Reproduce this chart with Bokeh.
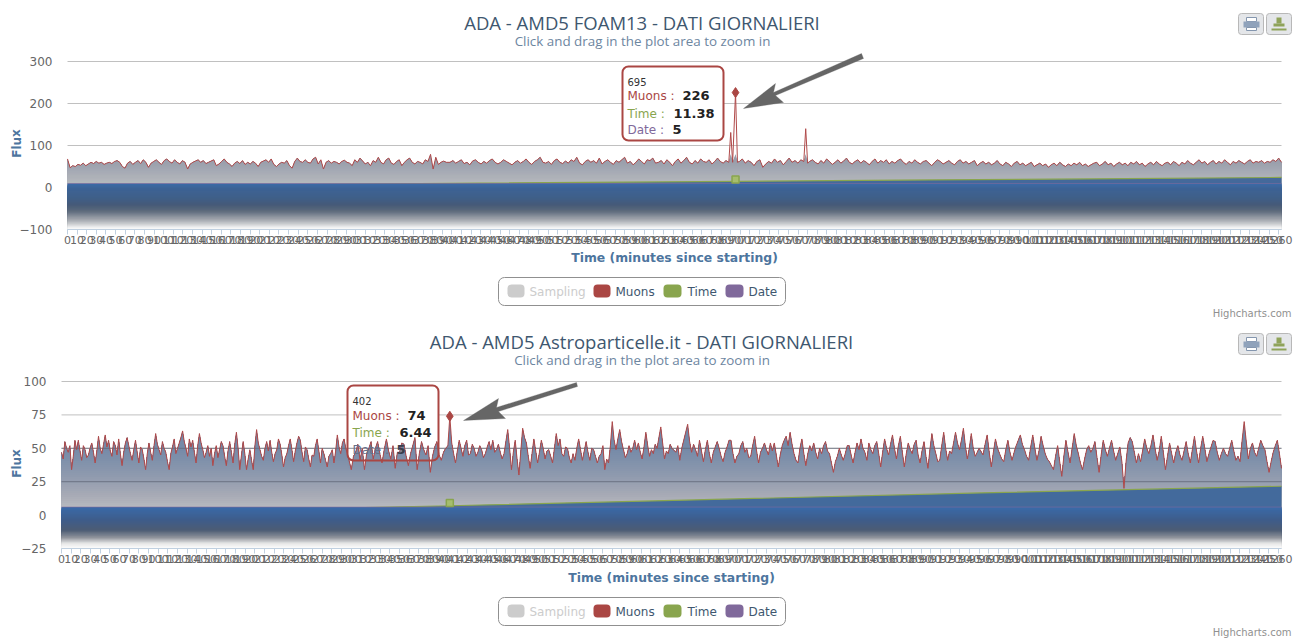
from bokeh.plotting import figure
from bokeh.layouts import column
from bokeh.embed import file_html
from bokeh.resources import INLINE
from bokeh.models import (Range1d, FixedTicker, Label, BoxAnnotation, PolyAnnotation, AllLabels)

TITLE_1 = "ADA - AMD5 FOAM13 - DATI GIORNALIERI"
TITLE_2 = "ADA - AMD5 Astroparticelle.it - DATI GIORNALIERI"
SUBTITLE = "Click and drag in the plot area to zoom in"
X_LABEL = "Time (minutes since starting)"
Y_LABEL = "Flux"
CREDIT = "Highcharts.com"
SERIES = ["Sampling", "Muons", "Time", "Date"]
X_TICKS = list(range(0, 1270, 10))
X_END = 1263
Y_TICKS_1 = [-100, 0, 100, 200, 300]
Y_TICKS_2 = [-25, 0, 25, 50, 75, 100]

# Muons, chart 1: values, section by section
m1_a = [68,47,52,50,55,53,58,52,56,60,57,62,58,60,55,58,60,57,62,64,60,50,46,58,62,55,60,64,57,66,60,48,58,62,66,60,55,64,68,62,58,66,60,56,64,60,44,56,60,63,66,60,64,57,60,63,66,52,56,62,68,60,56,50,58,62,57,64,55,60,56,62,58,50,60,63,66,60,68,55,50,56,60,58,64,52,46,62,70,62,60,66,60,58,68,72,56,66,44,60,64,58,62,60,56,62,65,60,58,52,66,60,70,63,56,60,52,64,60,72,60,56,66,70,58,55,62,66,52,60,66,70,60,56,62,60,56,66,62,79,44,72,55,60,63,60]
m1_b = [60,64,58,62,66,57,60,54,63,66,60,56,62,58,64,68,60,56,60,66,62,58,54,60,64,58,62,68,60,55,62,66,72,60,58,62,55,64,68,60,57,63,58,66,62,72,58,54,62,66,60,64,58,70,56,62,66,60,55,64,60,66,72,58,62,54,60,68,62,56,66,64,70,58,60,64,56,66,60,52,62,68,58,64,72,60,56,64,58,68,62,60,66,56,62,70,62,58,64,60]
m1_spike_x = [690, 692, 695, 697]
m1_spike_y = [131, 60, 226, 60]
m1_c = [62,68,58,64,60,52,62,66,48,56,62,58,68,60,64,54,62,70,60,64,58,66,62]
m1_spike2_x = [768, 770]
m1_spike2_y = [140, 58]
m1_d = [62,66,60,56,64,58,68,62,55,60,66,58,63,70,60,56,62,66,58,64,60,54,62,68,58,64,60,66,56,62,58,64,68,60,55,62,58,66,60,56,62,64,58,52,60,66,62,56,60,64,58,54,62,66,58,62,56,60,64,52,58,62,56,60,54,58,64,56,52,60,56,50,58,62,54,58,52,56,60,50,54,58,52,56,48,54,58,52,60,54,50,56,52,58,54,60,52,56,50,54,58,60,52,56,62,54,58,50,56,60,54,58,52,60,56,62,54,58,50,56,60,54,62,56,52,58,60,54,62,58,52,60,56,64,58,54,60,66,58,62,54,60,64,56,62,58,66,60,54,62,58,64,60,56,62,66,58,62,60,64,58,62,60,66,62,70,60]
m1_x_sections = [(0, 394), (398, 688), (699, 766), (772, 1263)]

# Muons, chart 2
m2_a = [47,42,55,50,47,52,34,44,56,49,56,48,41,52,49,43,45,50,54,47,39,48,59,50,46,53,60,51,56,48,44,55,52,45,57,46,37,47,54,58,52,46,41,49,56,47,39,51,49,42,34,46,54,47,41,52,61,53,49,45,55,50,47,40,34,46,51,57,46,50,54,58,63,55,50,44,57,51,56,47,39,52,61,54,49,43,47,52,44,50,37,46,52,43,49,55,52,44,37,48,55,47,39,53,62,50,34,45,55,46,34,42,49,41,34,52,64,54,49,44,41,50,55,48,56,47,40,46,49,57,53,45,36,43,46,52,57,49,40,48,54,59,56,47,40,51,49,42,36,45,44,52,57,48,39,50,46,41,36,44,46,49,39,48,60,51,46,54,57,50,46]
m2_b = [34,44,47,53,41,50,34,46,50,55,42,50,55,46,39,49,57,48,42,52,35,47,47,54,53,44,37,46,52,58,34,46,55,49,45,52,32,44,51,55,45,41,47,50,52]
m2_peak_x = [402]
m2_peak_y = [74]
m2_c = [54,46,39,48,56,50,44,52,56,45,46,53,50,44,47,52,49,43,46,51,55,49,56,47,49,53,47,42,46,55,64,50,34,47,56,42,30,48,65,58,54,44,35,46,57,48,39,47,56,50,42,48,49,44,39,50,61,52,57,46,44,51,50,43,39,46,41,50,57,49,41,48,55,47,41,50,49,44,39,44,46,52,34,42,39,52,70,56,49,57,64,55,49,43,46,52,47,50,56,49,54,47,42,51,62,52,44,49,46,53,50,58,66,54,42,48,46,53,50]
m2_d = [47,52,41,50,56,62,68,55,47,53,49,44,56,48,40,49,56,46,39,47,51,55,50,44,40,47,51,56,56,46,39,44,46,52,55,47,50,43,44,52,59,48,39,47,50,54,49,45,54,48,54,45,36,45,52,56,59,52,62,53,46,41,39,50,57,46,37,46,52,48,54,47,42,50,46,52,55,48,46,39,32,40,44,50,45,41,46,52,52,45,39,47,54,49,57,50,47,41,54,49,46,52,55,46,36,47,57,50,45,53,60,50,42,52,59,47,36,46,54,49,46,53,56,45,39,48,55,44,35,49,61,52,46,40,41,52,62,50,41,48,46,54,62,54,49,56,65,52,42,50,61,50,44,47,50]
m2_e = [45,53,60,47,36,47,57,50,46,42,40,49,56,47,41,47,52,56,60,53,49,44,41,51,60,50,41,48,59,52,46,42,40,37,34,44,52,40,29,44,56,47,39,50,61,52,46,39,34,42,49,52,47,50,55,43,32,45,56,49,44,50,56,48,41,46,51,40,20,40,54,58,55,47,39,46,40,48,57,50,46,52,60,50,41,48,59,47,34,44,54,46,39,47,52,45,41,48,55,46,39,49,59,48,39,50,59,50,40,46,51,56,55,47,41,46,50,46,44,50,56,48,41,44,40,56,70,55,42,50,54,47,44,50,56,52,49,40,32,40,47,52,56,46,35]
m2_x_sections = [(0, 296), (300, 400), (404, 632), (636, 950), (954, 1263)]

# Time and Date, read at a few places
time_x_1 = [0, 200, 400, 695, 900, 1100, 1263]
time_y_1 = [3, 6.5, 10, 14.5, 18, 21, 24]
time_x_2 = [0, 200, 402, 634, 952, 1263]
time_y_2 = [0.5, 4, 7, 11, 16.6, 21.6]
date_1 = 9.5
date_2 = 6

# The hovered point of each chart
hover_1 = {"n": "695", "x": 695, "muons": 226, "muons_txt": "226", "time_txt": "11.38", "time_y": 19, "date_txt": "5"}
hover_2 = {"n": "402", "x": 402, "muons": 74, "muons_txt": "74", "time_txt": "6.44", "time_y": 9, "date_txt": "5"}

RED, GREEN, PURPLE = "#AA4643", "#89A54E", "#80699B"
LINE_RED = "#B04A4A"
TXT = "#3E576F"
SUB = "#6D869F"
AXT = "#4D759E"
LBL = "#666666"
TITLE_FONT = "Open Sans"
FONT = "DejaVu Sans"

# colour stops (value, colour), top to bottom
grey_1 = [(80, "#979dab"), (60, "#9ba0ad"), (40, "#a6aab4"), (10, "#b6b9bd")]
blue_1 = [(10, "#3b6ba8"), (0, "#3d6396"), (-24, "#3f5f88"), (-40, "#465a78"), (-55, "#5d6a7c"), (-79, "#b0b3b8"), (-95, "#f5f5f5"), (-100, "#ffffff")]
grey_2 = [(72, "#6f88aa"), (50, "#758aa8"), (30, "#8f9aae"), (15, "#a8abb6"), (6, "#b9bbc0")]
blue_2 = [(6, "#3a6aa8"), (-4, "#3f5c88"), (-11, "#4d5d75"), (-16.4, "#8f939b"), (-21, "#e8e8e8"), (-25, "#ffffff")]


def hex2rgb(c):
    return [int(c[i:i + 2], 16) for i in (1, 3, 5)]


def colour_at(stops, v):
    if v >= stops[0][0]:
        return stops[0][1]
    for (a, ca), (b, cb) in zip(stops, stops[1:]):
        if b <= v <= a:
            t = (a - v) / (a - b)
            r = [round(p + (q - p) * t) for p, q in zip(hex2rgb(ca), hex2rgb(cb))]
            return "#%02x%02x%02x" % tuple(r)
    return stops[-1][1]


def spread(section, vals):
    a, b = section
    n = len(vals)
    return [a + (b - a) * i / (n - 1) for i in range(n)]


def levels(top, bottom, step):
    out = []
    v = top
    while v > bottom:
        out.append(v)
        v -= step
    return out


W = 1303


def build(cfg):
    left, fw, top, fh, H, oy = cfg["left"], cfg["fw"], cfg["top"], cfg["fh"], cfg["H"], cfg["oy"]
    ticks = cfg["ticks"]
    ymin, ymax = ticks[0], ticks[-1]
    sx = X_END / fw
    sy = (ymax - ymin) / fh
    p = figure(width=W, height=H, output_backend="svg", toolbar_location=None,
               x_range=Range1d(-left * sx, X_END + (W - left - fw) * sx),
               y_range=Range1d(ymin - (oy + H - top - fh) * sy, ymax + (top - oy) * sy),
               min_border_left=0, min_border_right=0, min_border_top=0, min_border_bottom=0,
               tools="")
    p.outline_line_color = None
    p.grid.visible = False

    ax = p.xaxis[0]
    ax.fixed_location = ymin
    ax.bounds = (0, X_END)
    ax.ticker = FixedTicker(ticks=X_TICKS)
    ax.major_label_policy = AllLabels()
    ax.major_tick_out = 5
    ax.major_tick_in = 0
    ax.minor_tick_line_color = None
    ax.major_tick_line_color = "#C0D0E0"
    ax.axis_line_color = "#C0D0E0"
    ax.major_label_text_font = FONT
    ax.major_label_text_font_size = "11px"
    ax.major_label_text_color = LBL
    ax.major_label_standoff = 1

    ay = p.yaxis[0]
    ay.fixed_location = 0
    ay.bounds = (ymin, ymax)
    ay.ticker = FixedTicker(ticks=ticks)
    ay.major_tick_line_color = None
    ay.minor_tick_line_color = None
    ay.axis_line_color = None
    ay.major_label_text_font = FONT
    ay.major_label_text_font_size = "12px"
    ay.major_label_text_color = LBL
    ay.major_label_standoff = 9

    def box(l, t, r, b, fill=None, line=None, radius=0, lw=1, level="overlay"):
        p.add_layout(BoxAnnotation(left=l, right=r, top=t - oy, bottom=b - oy,
                                   left_units="canvas", right_units="canvas", top_units="canvas", bottom_units="canvas",
                                   fill_color=fill, fill_alpha=1 if fill else 0, line_color=line, line_width=lw,
                                   line_alpha=1 if line else 0, border_radius=radius, level=level, editable=False))

    def txt(x, y, s, size, color, font=FONT, bold=False, align="left", angle=0):
        p.add_layout(Label(x=x, y=y - oy, x_units="canvas", y_units="canvas", text=s, angle=angle,
                           text_font=font, text_font_size=size, text_color=color,
                           text_font_style="bold" if bold else "normal",
                           text_align=align, text_baseline="middle", level="overlay"))

    hv = cfg["hover"]
    tb = cfg["tip"]
    # gridlines, then the tooltip body, both behind the chart; its border and texts are in front
    p.segment(x0=[0] * len(ticks), x1=[X_END] * len(ticks), y0=ticks, y1=ticks, line_color="#C0C0C0", line_width=1,
              level="underlay")
    box(tb[0], tb[1], tb[2], tb[3], fill="#ffffff", level="underlay")

    mx, my = cfg["mx"], cfg["my"]
    for lv in levels(cfg["gtop"], cfg["date"], cfg["gstep"]):
        p.varea(x=mx, y1=[min(v, lv) for v in my], y2=[ymin] * len(my), fill_color=colour_at(cfg["grey"], lv))

    if cfg["through"]:
        n = len(cfg["through"])
        p.segment(x0=[0] * n, x1=[X_END] * n, y0=cfg["through"], y1=cfg["through"],
                  line_color="#5f6675", line_alpha=0.75, line_width=1)

    tx, ty = cfg["tx"], cfg["ty"]
    p.varea(x=tx, y1=ty, y2=[ymin] * len(tx), fill_color=cfg["tfill"])
    p.line(x=tx, y=ty, line_color=GREEN, line_width=1.2)

    lv = levels(cfg["date"], ymin, cfg["bstep"])
    p.quad(left=[0] * len(lv), right=[X_END] * len(lv), top=lv, bottom=[ymin] * len(lv),
           fill_color=[colour_at(cfg["blue"], v) for v in lv], line_color=None)
    p.line(x=[0, X_END], y=[cfg["date"], cfg["date"]], line_color=PURPLE, line_width=1, line_alpha=0.6)

    p.line(x=mx, y=my, line_color=LINE_RED, line_width=1, line_join="miter")
    p.scatter(x=[hv["x"]], y=[hv["muons"]], marker="diamond", size=10, fill_color=RED, line_color=RED)
    p.scatter(x=[hv["x"]], y=[hv["time_y"]], marker="square", size=7, fill_color="#a6bd6e", line_color=GREEN, line_width=1.5)

    # titles
    txt(cfg["tcx"], cfg["ty0"], cfg["title"], "18.5px", TXT, font=TITLE_FONT, align="center")
    txt(cfg["tcx"] + 0.5, cfg["ty0"] + 18, SUBTITLE, "13.4px", SUB, font=TITLE_FONT, align="center")
    # axis titles
    txt((left + left + fw) / 2, cfg["xly"], X_LABEL, "12.4px", AXT, bold=True, align="center")
    txt(16, cfg["yly"], Y_LABEL, "12px", AXT, bold=True, align="center", angle=1.5708)

    # tooltip
    box(tb[0], tb[1], tb[2], tb[3], line=RED, radius=6, lw=2)
    x0 = tb[0] + 5
    ys = cfg["tipy"]
    txt(x0, ys[0], hv["n"], "10px", "#333333")
    txt(x0, ys[1], "Muons :", "12px", RED)
    txt(cfg["tipv"][0], ys[1], hv["muons_txt"], "13px", "#222222", bold=True)
    txt(x0, ys[2], "Time :", "12px", GREEN)
    txt(cfg["tipv"][1], ys[2], hv["time_txt"], "13px", "#222222", bold=True)
    txt(x0, ys[3], "Date :", "12px", cfg["datecol"])
    txt(cfg["tipv"][2], ys[3], hv["date_txt"], "13px", cfg["datevalcol"], bold=True)

    # arrow
    ar = cfg["arrow"]
    p.add_layout(PolyAnnotation(xs=[a[0] for a in ar], ys=[a[1] - oy for a in ar],
                                xs_units="canvas", ys_units="canvas", fill_color="#666666", fill_alpha=1,
                                line_color="#666666", line_width=1, level="overlay", editable=False))

    # legend
    ly = cfg["ly"]
    box(498, ly, 785, ly + 28, fill="#ffffff", line="#909090", radius=6)
    sym = [(507, 524, "#CCCCCC"), (593, 610, RED), (663, 681, GREEN), (725, 743, PURPLE)]
    tx_x = [529, 615, 687, 748]
    for (a, b, c), t, name in zip(sym, tx_x, SERIES):
        box(a, ly + 7, b, ly + 20, fill=c, radius=4)
        txt(t, ly + 14, name, "12px", "#CCCCCC" if name == "Sampling" else TXT)

    # export buttons
    by = cfg["by"]
    box(1238, by, 1263, by + 21, fill="#e4e6e9", line="#b8b8b8", radius=3)
    box(1266, by, 1291, by + 21, fill="#e4e6e9", line="#b8b8b8", radius=3)
    box(1246, by + 4, 1256, by + 8, fill="#ffffff", line="#8496ae")
    box(1243, by + 8, 1259, by + 14, fill="#8fa2bb")
    box(1246, by + 14, 1256, by + 17, fill="#ffffff", line="#8496ae")
    box(1276, by + 4, 1281, by + 10, fill="#8fa35a")
    box(1273, by + 10, 1284, by + 13, fill="#8fa35a")
    box(1271, by + 15, 1286, by + 17, fill="#8fa35a")

    txt(1291, cfg["cy"], CREDIT, "10px", "#909090", align="right")
    return p


m1_x, m1_y = [], []
for sec, vals, ex, ey in zip(m1_x_sections, [m1_a, m1_b, m1_c, m1_d],
                             [[], m1_spike_x, m1_spike2_x, []], [[], m1_spike_y, m1_spike2_y, []]):
    m1_x += spread(sec, vals) + ex
    m1_y += vals + ey

m2_x, m2_y = [], []
for sec, vals, ex, ey in zip(m2_x_sections, [m2_a, m2_b, m2_c, m2_d, m2_e],
                             [[], m2_peak_x, [], [], []], [[], m2_peak_y, [], [], []]):
    m2_x += spread(sec, vals) + ex
    m2_y += vals + ey

arrow_1 = [(743, 108), (775, 83), (773, 92), (861, 53), (863, 58), (775, 95), (783, 102)]
arrow_2 = [(463, 420), (498, 398), (496, 407), (576, 382), (577, 386), (498, 411), (505, 418)]

p1 = build(dict(left=67, fw=1214, top=61, fh=168, H=320, oy=0, ticks=Y_TICKS_1,
                mx=m1_x, my=m1_y, tx=time_x_1, ty=time_y_1, date=date_1, grey=grey_1, blue=blue_1,
                gtop=80, gstep=3, bstep=2.5, tfill="#44699b", through=[], hover=hover_1,
                tip=(622, 66, 723, 140), tipy=[81, 95, 113, 129], tipv=(682, 673, 672), datecol=PURPLE, datevalcol="#222222",
                arrow=arrow_1, ly=277, by=13, cy=313, tcx=641.5, ty0=22, title=TITLE_1, xly=257, yly=143))
p2 = build(dict(left=61, fw=1220, top=381, fh=167, H=319, oy=320, ticks=Y_TICKS_2,
                mx=m2_x, my=m2_y, tx=time_x_2, ty=time_y_2, date=date_2, grey=grey_2, blue=blue_2,
                gtop=72, gstep=1.5, bstep=0.7, tfill="#436a9c", through=[25, 50], hover=hover_2,
                tip=(347, 385, 438, 460), tipy=[400, 415, 432, 449], tipv=(407, 399, 396), datecol="#66708a", datevalcol="#3a3f4c",
                arrow=arrow_2, ly=597, by=333, cy=632, tcx=641, ty0=341, title=TITLE_2, xly=577, yly=463))

layout = column(p1, p2, spacing=0)
open("out.html", "w").write(file_html(layout, INLINE))
